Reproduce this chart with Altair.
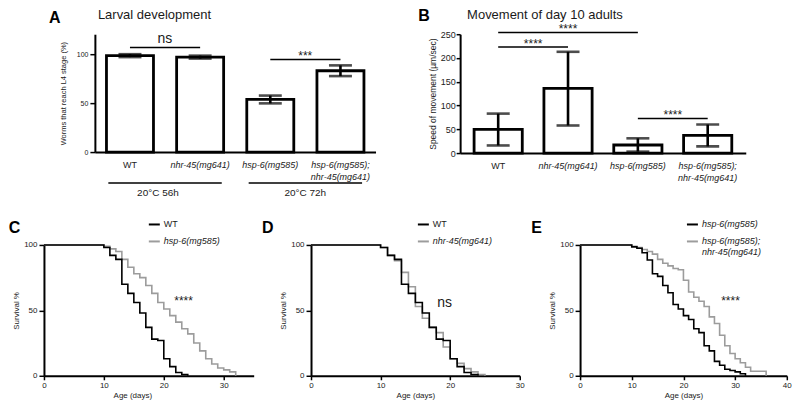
import altair as alt
import pandas as pd

FONT = "Liberation Sans"
GRAY = "#9c9c9c"
INK = "#1a1a1a"

# ---------------- data ----------------
genotypes = ["WT", "nhr-45(mg641)", "hsp-6(mg585)", "hsp-6(mg585); nhr-45(mg641)"]

# Panel A: % worms reaching L4
a_mean = [99.0, 97.5, 54.0, 83.5]
a_low = [97.5, 96.0, 50.0, 78.0]
a_high = [100.5, 99.0, 58.0, 89.0]
a_sig_left = ["WT", "hsp-6(mg585)"]
a_sig_right = ["nhr-45(mg641)", "hsp-6(mg585); nhr-45(mg641)"]
a_sig_level = [107.4, 95.1]
a_sig_label = ["ns", "***"]
a_sig_label_level = [115.9, 98.4]
a_group_left = ["WT", "hsp-6(mg585)"]
a_group_right = ["nhr-45(mg641)", "hsp-6(mg585); nhr-45(mg641)"]
a_group_label = ["20°C 56h", "20°C 72h"]
a_group_level = [-31.8, -42.0]

# Panel B: speed of movement
b_mean = [50.0, 136.0, 17.0, 37.0]
b_low = [16.0, 58.0, 3.0, 14.0]
b_high = [83.0, 213.0, 31.0, 60.0]
b_sig_left = ["WT", "WT", "hsp-6(mg585)"]
b_sig_right = ["nhr-45(mg641)", "hsp-6(mg585)", "hsp-6(mg585); nhr-45(mg641)"]
b_sig_mid = ["WT", "nhr-45(mg641)", "hsp-6(mg585)"]
b_sig_level = [223.3, 253.6, 72.9]
b_sig_label = ["****", "****", "****"]
b_sig_label_level = [228.8, 261.8, 79.6]

# Panel C: survival WT vs hsp-6
c_wt_day = [0, 10, 11, 12, 13, 14, 15, 16, 17, 18, 19, 20, 21, 22, 23, 24]
c_wt_pct = [100, 98, 92, 89, 70, 63, 56, 48, 37, 28, 27, 13, 7, 2.5, 1, 0]
c_hsp_day = [0, 10, 11, 12, 13, 14, 15, 16, 17, 18, 19, 20, 21, 22, 23, 24,
             25, 26, 27, 28, 29, 30, 31, 32]
c_hsp_pct = [100, 99, 97, 95, 89, 83, 78, 75, 69, 63, 56, 51, 46, 41, 36, 32,
             25, 19, 13, 9, 6, 4.5, 3, 0]

# Panel D: survival WT vs nhr-45
d_wt_day = [0, 10, 11, 12, 13, 14, 15, 16, 17, 18, 19, 20, 21, 22, 23, 24]
d_wt_pct = [100, 98, 92, 89, 70, 63, 56, 48, 37, 28, 27, 13, 7, 2.5, 1, 0]
d_nhr_day = [0, 10, 11, 12, 13, 14, 15, 16, 17, 18, 19, 20, 21, 22, 23, 24, 25]
d_nhr_pct = [100, 98, 92, 88, 79, 68, 53, 44, 37, 33, 22, 13, 9.5, 5.5, 3, 1, 0]

# Panel E: survival hsp-6 vs hsp-6; nhr-45
e_hsp_day = [0, 10, 11, 12, 13, 14, 15, 16, 17, 18, 19, 20, 21, 22, 23, 24,
             25, 26, 27, 28, 29, 30, 31, 32]
e_hsp_pct = [100, 98.5, 97.5, 94, 88.5, 78, 76, 69, 63.5, 54.5, 51, 46, 43, 36, 33, 23,
             19, 11, 8, 5, 4, 3, 1.5, 0]
e_dbl_day = [0, 10, 11, 12, 13, 14, 15, 16, 17, 18, 19, 20, 21, 22, 23, 24,
             25, 26, 27, 28, 29, 30, 31, 32, 33, 36]
e_dbl_pct = [100, 99, 98, 96.5, 95, 93, 89, 86, 84, 82, 81, 73, 64, 60, 57, 53,
             45, 40, 31, 23, 17, 13, 10, 6.5, 3.5, 0]


def one(**cols):
    return pd.DataFrame(cols)


def txt(**kw):
    base = dict(font=FONT, color=INK, align="center", baseline="middle")
    base.update(kw)
    return base


def pixel_text(label, x, y, **kw):
    return alt.Chart(one(t=[label])).mark_text(**txt(**kw)).encode(
        text="t:N", x=alt.value(x), y=alt.value(y))


def anchor(x1, x2, y1, y2):
    # invisible frame that fixes the panel's layout box
    return alt.Chart(one(t=[0])).mark_rule(opacity=0).encode(
        x=alt.value(x1), x2=alt.value(x2), y=alt.value(y1), y2=alt.value(y2))


# ---------------- bar panels ----------------
def bar_panel(letter, title, means, lows, highs, ydomain, yvalues, width, height,
              pin, pout, yaxis_kw, annotations, letter_xy, title_xy, box):
    xs = alt.Scale(domain=genotypes, paddingInner=pin, paddingOuter=pout)
    ys = alt.Scale(domain=ydomain, nice=False)
    xax = alt.Axis(title=None, ticks=False, labelAngle=0, labelFontSize=9,
                   labelPadding=8, labelLineHeight=12, labelColor=INK,
                   labelExpr="split(datum.label, ' ')",
                   labelFontStyle=alt.condition("datum.value == 'WT'",
                                                alt.value("normal"), alt.value("italic")),
                   domainWidth=2, domainColor="black")
    yax = alt.Axis(values=yvalues, tickWidth=1.5, domainWidth=2, grid=False,
                   titleFontWeight="normal", labelColor=INK, titleColor=INK, **yaxis_kw)

    def X(f, **kw):
        return alt.X(f"{f}:N", scale=xs, axis=xax, **kw)

    def Y(f):
        return alt.Y(f"{f}:Q", scale=ys, axis=yax)

    df = pd.DataFrame({"cat": genotypes, "v": means, "lo": lows, "hi": highs})
    caps = pd.DataFrame({"cat": genotypes + genotypes, "v": lows + highs})
    layers = [
        alt.Chart(df).mark_bar(fill="white", stroke="black", strokeWidth=2.8).encode(
            x=X("cat"), y=Y("v")),
        alt.Chart(df).mark_rule(color="black", strokeWidth=2.6).encode(
            x=X("cat"), y=Y("lo"), y2=alt.Y2("hi")),
        alt.Chart(caps).mark_tick(color="black", thickness=2.6, size=23).encode(
            x=X("cat"), y=Y("v")),
    ]
    for a in annotations:
        kind = a["kind"]
        if kind == "rule":
            d = pd.DataFrame({"cat": a["left"], "c2": a["right"], "v": a["level"]})
            if "bp" in a:
                enc = dict(x=X("cat", bandPosition=a["bp"][0]),
                           x2=alt.X2("c2", bandPosition=a["bp"][1]))
            else:
                enc = dict(x=X("cat"), x2=alt.X2("c2"))
            layers.append(alt.Chart(d).mark_rule(color="black", strokeWidth=1.5).encode(
                y=Y("v"), **enc))
        else:
            d = pd.DataFrame({"cat": [a["at"]], "v": [a["level"]], "t": [a["label"]]})
            layers.append(alt.Chart(d).mark_text(**txt(fontSize=a["size"], dx=a["dx"])).encode(
                x=X("cat"), y=Y("v"), text="t:N"))
    layers.append(pixel_text(letter, letter_xy[0], letter_xy[1], align="left",
                             fontSize=16, fontWeight="bold", color="black"))
    layers.append(pixel_text(title, title_xy[0], title_xy[1], align="left", fontSize=13))
    layers.append(anchor(*box))
    return alt.layer(*layers).properties(width=width, height=height)


a_ann = [
    dict(kind="rule", left=a_sig_left, right=a_sig_right, level=a_sig_level),
    dict(kind="text", at=a_sig_left[0], level=a_sig_label_level[0], label=a_sig_label[0], size=14, dx=35),
    dict(kind="text", at=a_sig_left[1], level=a_sig_label_level[1], label=a_sig_label[1], size=12, dx=35),
    dict(kind="rule", left=a_group_left, right=a_group_right, level=[a_group_level[0]] * 2, bp=(0.04, 0.96)),
    dict(kind="text", at=a_group_left[0], level=a_group_level[1], label=a_group_label[0], size=10, dx=28),
    dict(kind="text", at=a_group_left[1], level=a_group_level[1], label=a_group_label[1], size=10, dx=35),
]

panelA = bar_panel(
    "A", "Larval development", a_mean, a_low, a_high, [0, 121], [0, 50, 100], 281, 118,
    0.33, 0.165,
    dict(title="Worms that reach L4 stage (%)", tickSize=5, labelFontSize=7, titleFontSize=7.5,
         titlePadding=9, labelPadding=2),
    a_ann, (-46, -16), (3, -19.5), (-46, 282.5, -26, 166))

b_ann = [dict(kind="rule", left=b_sig_left, right=b_sig_right, level=b_sig_level)]
for i in range(3):
    b_ann.append(dict(kind="text", at=b_sig_mid[i], level=b_sig_label_level[i],
                      label=b_sig_label[i], size=12, dx=0 if i == 1 else 35))

panelB = bar_panel(
    "B", "Movement of day 10 adults", b_mean, b_low, b_high, [0, 250],
    [0, 50, 100, 150, 200, 250], 286, 119, 0.31, 0.2,
    dict(title="Speed of movement (µm/sec)", tickSize=4, labelFontSize=9, titleFontSize=8.5,
         titlePadding=3, labelPadding=1),
    b_ann, (-42, -18), (7, -19.5), (-42, 0, -26, 0))


# ---------------- survival panels ----------------
def surv_panel(letter, s1, d1, p1, s2, d2, p2, xmax, xticks, width, sig, sig_x, sig_y,
               sig_size, legend_x, letter_x, box, title_x=None, e_style=False):
    xs = alt.Scale(domain=[0, xmax], nice=False)
    ys = alt.Scale(domain=[0, 100], nice=False)
    xkw = dict(values=xticks, title="Age (days)", tickSize=4, tickWidth=1.5, domainWidth=2,
               labelFontSize=8, titleFontSize=8, titleFontWeight="normal", labelPadding=2,
               titlePadding=1.5, labelFlush=False, grid=False, labelColor=INK, titleColor=INK)
    if title_x is not None:
        xkw["titleX"] = title_x
    xax = alt.Axis(**xkw)
    yax = alt.Axis(values=[0, 50, 100], title="Survival %", tickSize=5, tickWidth=1.5,
                   domainWidth=2, labelFontSize=8, titleFontSize=8, titleFontWeight="normal",
                   labelPadding=2, titlePadding=3, grid=False, labelColor=INK, titleColor=INK)
    lkw = dict(title=None, orient="none", legendX=legend_x, legendY=-27,
               symbolType="stroke", symbolSize=121, symbolStrokeWidth=2,
               labelFontSize=9, labelOffset=3, rowPadding=5, padding=0,
               labelColor=INK, labelLimit=220,
               labelExpr="split(datum.label, ' ')",
               labelFontStyle={"expr": "datum.value == 'WT' ? 'normal' : 'italic'"})
    if e_style:
        lkw["labelBaseline"] = {"expr": "datum.index == 1 ? 'alphabetic' : 'middle'"}
    color = alt.Color("g:N", scale=alt.Scale(domain=[s1, s2], range=["black", GRAY]),
                      legend=alt.Legend(**lkw))
    X = alt.X("day:Q", scale=xs, axis=xax)
    Y = alt.Y("pct:Q", scale=ys, axis=yax)
    df1 = pd.DataFrame({"day": d1, "pct": p1, "g": s1})
    df2 = pd.DataFrame({"day": d2, "pct": p2, "g": s2})
    layers = [
        alt.Chart(df2).mark_line(interpolate="step-after", strokeWidth=1.6).encode(x=X, y=Y, color=color),
        alt.Chart(df1).mark_line(interpolate="step-after", strokeWidth=1.6).encode(x=X, y=Y, color=color),
        alt.Chart(pd.DataFrame({"day": [sig_x], "pct": [sig_y], "t": [sig]})).mark_text(
            **txt(fontSize=sig_size)).encode(x=X, y=Y, text="t:N"),
        pixel_text(letter, letter_x, -16.5, align="left", fontSize=16, fontWeight="bold",
                   color="black"),
        anchor(*box),
    ]
    return alt.layer(*layers).properties(width=width, height=131)


panelC = surv_panel("C", "WT", c_wt_day, c_wt_pct, "hsp-6(mg585)", c_hsp_day, c_hsp_pct,
                    35, [0, 10, 20, 30], 210, "****", 23.3, 56.8, 12, 104, -35.3,
                    (-35.3, 211.5, -28, 0), title_x=88.5)
panelD = surv_panel("D", "WT", d_wt_day, d_wt_pct, "nhr-45(mg641)", d_nhr_day, d_nhr_pct,
                    30, [0, 10, 20, 30], 209, "ns", 19.2, 56.0, 14, 106, -49,
                    (-49, 214, -28, 0))
panelE = surv_panel("E", "hsp-6(mg585)", e_hsp_day, e_hsp_pct, "hsp-6(mg585); nhr-45(mg641)",
                    e_dbl_day, e_dbl_pct, 40, [0, 10, 20, 30, 40], 207, "****", 29.1, 56.8, 12,
                    106, -49, (-49, 0, -28, 0))

# a narrow empty cell pushes the top row to the right of the bottom row's first plot
spacer = anchor(0, 5, 0, 1).properties(width=5, height=1)

top = alt.hconcat(spacer, alt.hconcat(panelA, panelB, spacing=40.7), spacing=0)
bottom = alt.hconcat(panelC, panelD, panelE, spacing=6.4).resolve_scale(color="independent")

chart = (
    alt.vconcat(top, bottom, spacing=17)
    .resolve_scale(color="independent")
    .properties(padding=0, background="white")
    .configure(font=FONT)
    .configure_view(strokeWidth=0)
    .configure_axis(domainColor="black", tickColor="black", labelFont=FONT, titleFont=FONT)
    .configure_legend(labelFont=FONT)
)

chart.save("out.html", embed_options={"renderer": "svg", "actions": False})
